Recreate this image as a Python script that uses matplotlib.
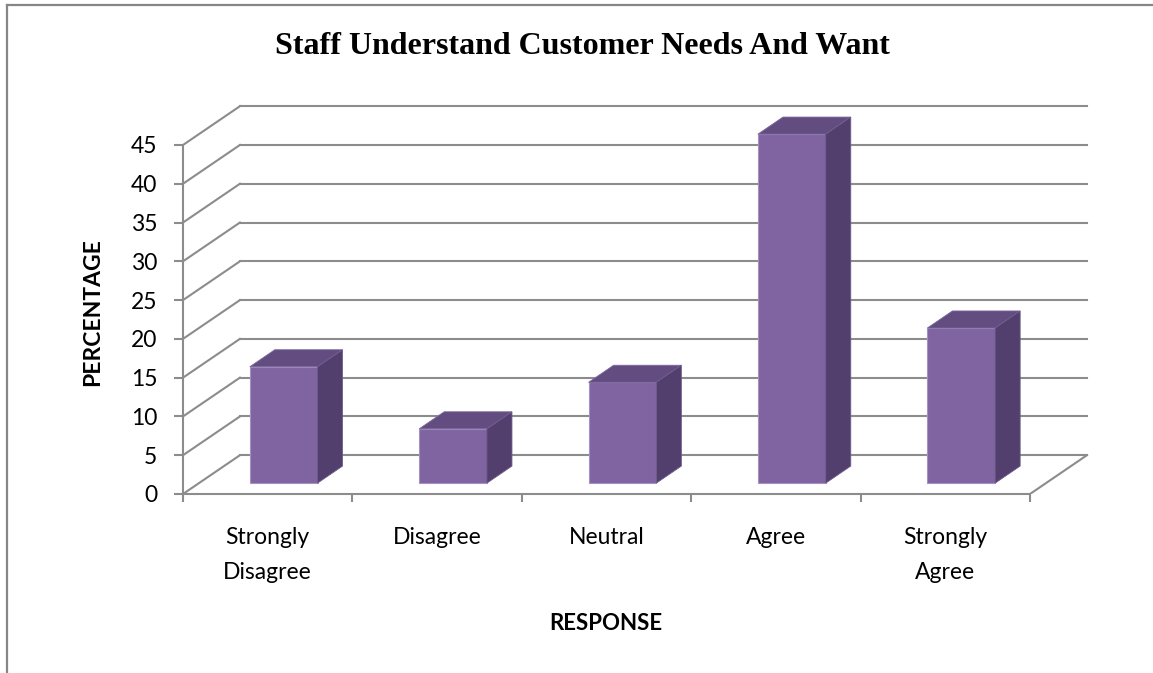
import matplotlib.pyplot as plt
from matplotlib.patches import Polygon
from matplotlib.lines import Line2D

# Survey results
categories = ['Strongly\nDisagree', 'Disagree', 'Neutral', 'Agree', 'Strongly\nAgree']
percentages = [15, 7, 13, 45, 20]
y_ticks = [0, 5, 10, 15, 20, 25, 30, 35, 40, 45]

# pseudo-3D geometry (data units)
DX, DY = 0.336, 5.0        # depth offset of the back wall
F0, F1 = 0.28, 0.72        # bar depth, as a fraction of the floor depth
BAR_W = 0.4
GRID = '#8c8c8c'
FRONT, SIDE, TOP = '#8064a2', '#533f6d', '#634d80'

fig = plt.figure(figsize=(11.53, 6.73), dpi=100)
W, H = 1153, 673
px_x, px_y = 169.4, 7.756
left, right, top, base = 183, 1100, 92, 494
ax = fig.add_axes([left / W, (H - base) / H, (right - left) / W, (base - top) / H])
ax.set_xlim(0, (right - left) / px_x)
ax.set_ylim(0, (base - top) / px_y)

n = len(categories)

# side wall, back wall and floor lines
for v in y_ticks:
    ax.plot([0, DX], [v, v + DY], color=GRID, lw=1.5, zorder=1)
    ax.plot([DX, n + DX], [v + DY, v + DY], color=GRID, lw=1.5, zorder=1)
ax.plot([n, n + DX], [0, DY], color=GRID, lw=1.5, zorder=1)

# bars: front face via ax.bar, top and side as polygons
ddx, ddy = (F1 - F0) * DX, (F1 - F0) * DY
b = F0 * DY
x0s = [i + (1 - BAR_W) / 2 + F0 * DX for i in range(n)]
ax.bar(x0s, percentages, width=BAR_W, bottom=b, align='edge', color=FRONT,
       edgecolor='#a592c0', linewidth=0.8, zorder=3)
for x0, v in zip(x0s, percentages):
    x1 = x0 + BAR_W
    ax.add_patch(Polygon([(x0, b + v), (x1, b + v), (x1 + ddx, b + v + ddy), (x0 + ddx, b + v + ddy)],
                         closed=True, facecolor=TOP, edgecolor='#7a68a0', lw=0.6, zorder=3))
    ax.add_patch(Polygon([(x1, b), (x1 + ddx, b + ddy), (x1 + ddx, b + v + ddy), (x1, b + v)],
                         closed=True, facecolor=SIDE, edgecolor='#6e5c8e', lw=0.6, zorder=3))

# axes
for s in ['top', 'right']:
    ax.spines[s].set_visible(False)
for s in ['left', 'bottom']:
    ax.spines[s].set_color(GRID)
    ax.spines[s].set_linewidth(1.5)
ax.spines['left'].set_bounds(0, 45)
ax.spines['bottom'].set_bounds(0, n)

ax.set_yticks(y_ticks)
ax.set_yticklabels([str(t) for t in y_ticks], fontfamily='Lato', fontsize=16.5)
ax.tick_params(axis='y', length=6.5, width=1.5, color=GRID, pad=12)

ax.set_xticks(range(n + 1))
ax.set_xticklabels([''] * (n + 1))
ax.tick_params(axis='x', which='major', length=6, width=1.5, color=GRID)
ax.set_xticks([i + 0.5 for i in range(n)], minor=True)
ax.set_xticklabels(categories, minor=True, fontfamily='Lato', fontsize=16.5, linespacing=1.8)
ax.tick_params(axis='x', which='minor', length=0, pad=24)

fig.text(606 / W, 1 - 624 / H, 'RESPONSE', ha='center', va='center',
         fontfamily='Lato', fontweight='bold', fontsize=16)
fig.text(93 / W, 1 - 312 / H, 'PERCENTAGE', ha='center', va='center', rotation=90,
         fontfamily='Lato', fontweight='bold', fontsize=16.5)
fig.text(582 / W, 1 - 46 / H, 'Staff Understand Customer Needs And Want', ha='center', va='center',
         fontfamily='Liberation Serif', fontweight='bold', fontsize=23)

# chart frame (left and top edges)
fig.add_artist(Line2D([7 / W, 7 / W], [0, 1 - 5 / H], color='#868686', lw=1.6))
fig.add_artist(Line2D([7 / W, 1], [1 - 5 / H, 1 - 5 / H], color='#868686', lw=1.6))

fig.savefig('out.png', dpi=100)
